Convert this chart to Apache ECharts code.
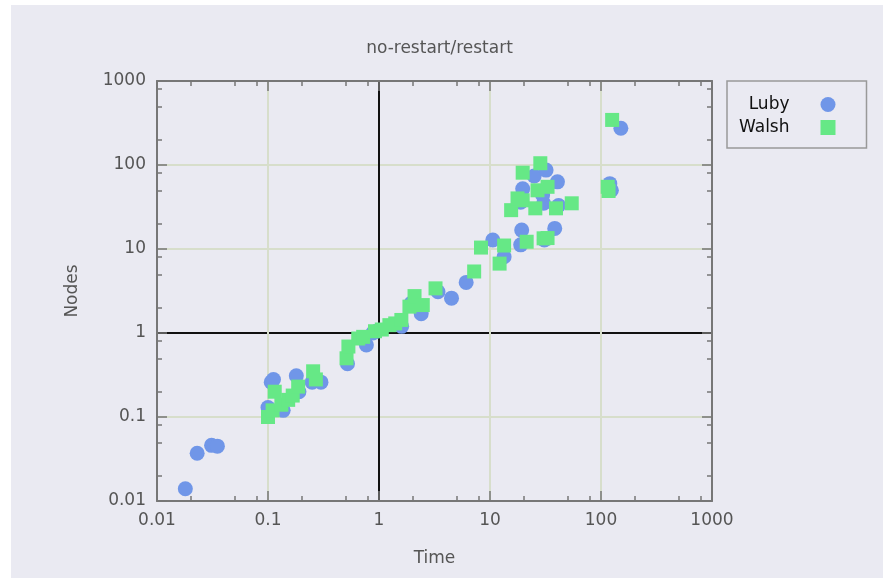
<!DOCTYPE html>
<html>
<head>
<meta charset="utf-8">
<script src="https://cdn.jsdelivr.net/npm/echarts@6/dist/echarts.min.js"></script>
<style>
  html, body { margin: 0; background: #fff; }
  #chart { width: 883px; height: 579px; }
</style>
</head>
<body>
<div id="chart"></div>
<script>
// tick values
const decades = [0.01, 0.1, 1, 10, 100, 1000];
const minorSteps = [2, 5, 8];

// [time, nodes]
const lubyPoints = [
  [0.018, 0.014], [0.023, 0.037], [0.031, 0.046], [0.035, 0.045],
  [0.1, 0.13], [0.107, 0.26], [0.112, 0.28], [0.137, 0.12],
  [0.18, 0.31], [0.19, 0.2], [0.25, 0.26], [0.3, 0.26],
  [0.52, 0.43], [0.77, 0.72], [0.88, 1.0], [0.95, 1.05],
  [1.6, 1.2], [1.95, 2.26], [2.4, 1.7], [3.4, 3.1],
  [4.5, 2.6], [6.1, 4.0], [10.6, 12.8], [13.4, 8.1],
  [18.9, 11.2], [19.3, 16.8], [19.7, 52], [18.9, 36],
  [25, 74], [32, 87], [30.4, 35], [29.8, 44],
  [30.9, 12.8], [38.3, 17.6], [40.5, 63], [41.5, 33],
  [120, 60], [124, 50], [151, 274]
];
const walshPoints = [
  [0.1, 0.1], [0.11, 0.12], [0.115, 0.2], [0.132, 0.14],
  [0.152, 0.16], [0.167, 0.18], [0.187, 0.23], [0.255, 0.35],
  [0.27, 0.28], [0.51, 0.5], [0.53, 0.69], [0.65, 0.86],
  [0.72, 0.9], [0.92, 1.05], [1.06, 1.1], [1.24, 1.24],
  [1.4, 1.3], [1.59, 1.43], [1.88, 2.06], [2.09, 2.75],
  [2.48, 2.15], [3.23, 3.4], [7.2, 5.4], [8.3, 10.4],
  [12.2, 6.7], [13.4, 11.0], [15.5, 29], [17.7, 40],
  [19.7, 38], [19.7, 81], [21.4, 12.2], [25.6, 30.5],
  [26.8, 50], [28.4, 105], [30.4, 13.4], [33, 13.5],
  [33, 55], [39.3, 30.5], [54.5, 35], [115, 55],
  [117, 49], [126, 344]
];

const font = 'DejaVu Sans';
const axisGray = '#777';
const gridColor = '#d7decb';

const lo = Math.log10(decades[0]);
const hi = Math.log10(decades[decades.length - 1]);
const minorTicks = [];
for (let d = lo; d < hi; d++) {
  minorSteps.forEach(m => minorTicks.push(d + Math.log10(m)));
}
const splitColors = decades.map(d => (d === 1 ? '#111' : gridColor));
const fmt = v => String(+(+v).toPrecision(3));

const mainAxis = (pos, withLabels) => ({
  type: 'log',
  logBase: 10,
  min: decades[0],
  max: decades[decades.length - 1],
  position: pos,
  axisLine: { show: true, onZero: false, lineStyle: { color: axisGray, width: 2 } },
  axisTick: { show: true, inside: true, length: 10, lineStyle: { color: axisGray, width: 1.5 } },
  axisLabel: { show: withLabels, formatter: fmt, color: '#555', fontSize: 17, fontFamily: font, margin: 11 },
  splitLine: { show: withLabels, lineStyle: { color: splitColors, width: 2 } },
  minorTick: { show: false },
  minorSplitLine: { show: false }
});

const minorAxis = (pos) => ({
  type: 'value',
  min: lo,
  max: hi,
  position: pos,
  axisLine: { show: false, onZero: false },
  axisTick: { show: true, inside: true, length: 5, customValues: minorTicks, lineStyle: { color: axisGray, width: 1.5 } },
  axisLabel: { show: false },
  splitLine: { show: false }
});

const chart = echarts.init(document.getElementById('chart'));
chart.setOption({
  animation: false,
  backgroundColor: '#fff',
  graphic: [{
    type: 'rect', z: -100, silent: true,
    shape: { x: 11, y: 5, width: 872, height: 573 },
    style: { fill: '#eaeaf2' }
  }],
  title: {
    text: 'no-restart/restart',
    left: 434.5, top: 35, textAlign: 'center',
    textStyle: { fontSize: 17, fontWeight: 'normal', color: '#555', fontFamily: font }
  },
  grid: { left: 157, top: 81, right: 171, bottom: 78 },
  legend: {
    orient: 'vertical', left: 727, top: 81, align: 'right',
    padding: [15, 31, 12, 12], itemGap: 6, itemWidth: 15, itemHeight: 15,
    backgroundColor: '#eaeaf2', borderColor: '#999', borderWidth: 1.5, borderRadius: 0,
    textStyle: { fontSize: 17, color: '#111', fontFamily: font, padding: [0, 26, 0, 0] },
    data: [{ name: 'Luby', icon: 'circle' }, { name: 'Walsh', icon: 'rect' }]
  },
  xAxis: [
    Object.assign(mainAxis('bottom', true), {
      name: 'Time', nameLocation: 'middle', nameGap: 49,
      nameTextStyle: { fontSize: 17, color: '#555', fontFamily: font }
    }),
    mainAxis('top', false),
    minorAxis('bottom'),
    minorAxis('top')
  ],
  yAxis: [
    Object.assign(mainAxis('left', true), {
      name: 'Nodes', nameLocation: 'middle', nameGap: 76,
      nameTextStyle: { fontSize: 17, color: '#555', fontFamily: font }
    }),
    mainAxis('right', false),
    minorAxis('left'),
    minorAxis('right')
  ],
  series: [
    {
      name: 'Luby', type: 'scatter', symbol: 'circle', symbolSize: 15,
      xAxisIndex: 0, yAxisIndex: 0, z: 5,
      itemStyle: { color: '#7096e8', opacity: 1 },
      data: lubyPoints
    },
    {
      name: 'Walsh', type: 'scatter', symbol: 'rect', symbolSize: 14,
      xAxisIndex: 0, yAxisIndex: 0, z: 6,
      itemStyle: { color: '#66e886', opacity: 1 },
      data: walshPoints
    }
  ]
});
</script>
</body>
</html>
